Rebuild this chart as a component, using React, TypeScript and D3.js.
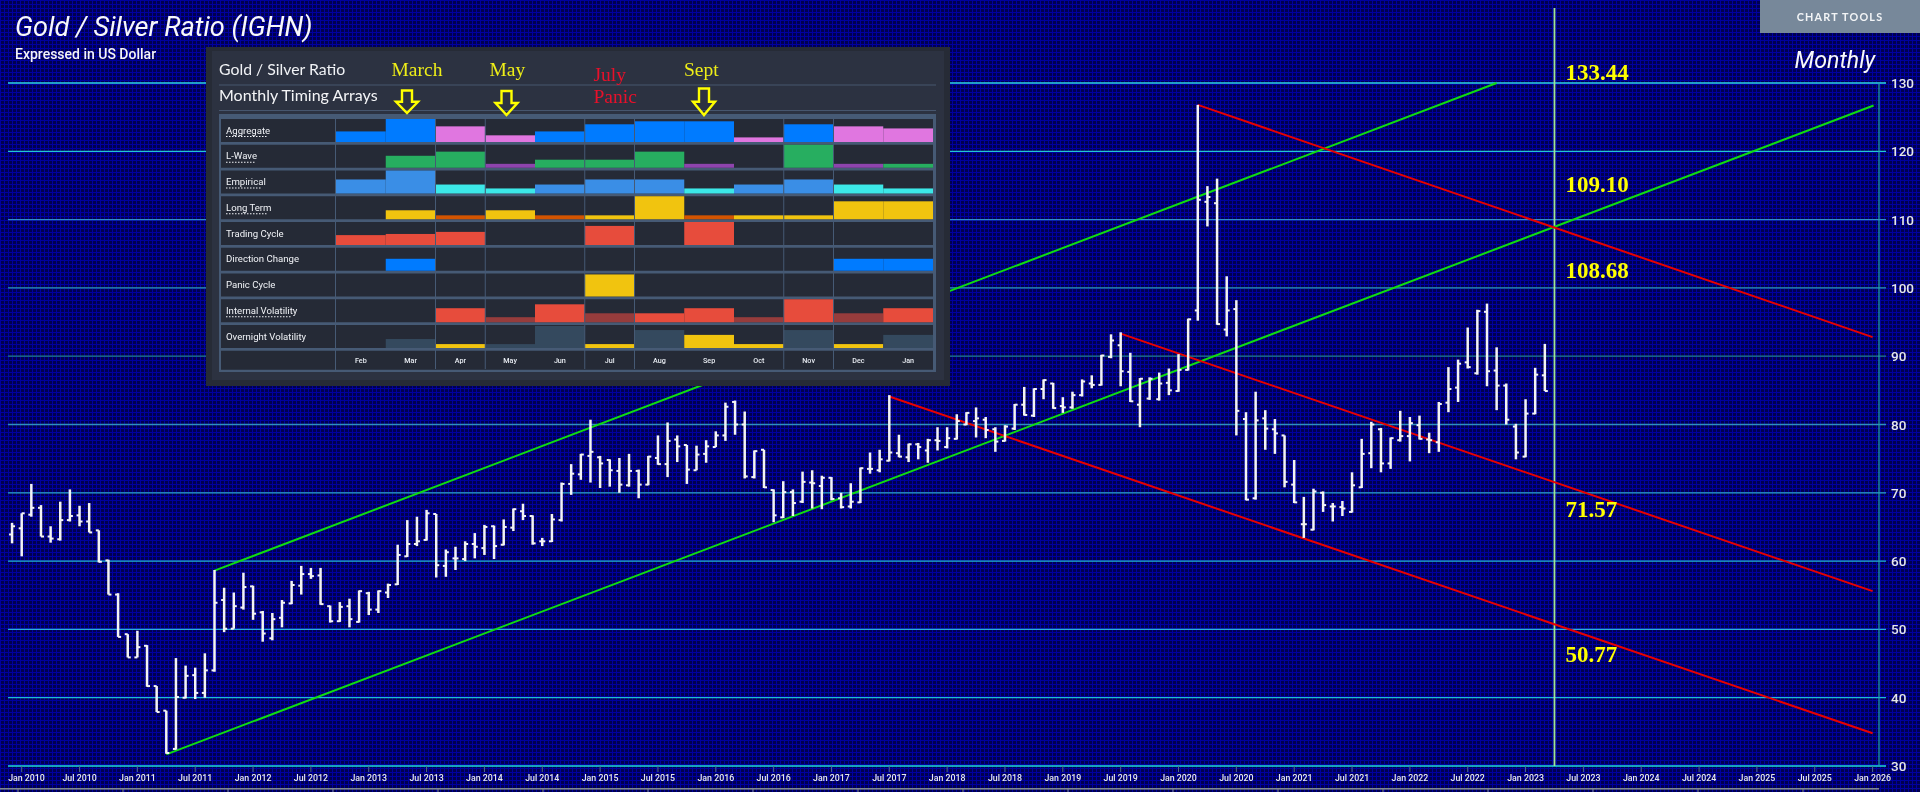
import React from "react";
import * as d3 from "d3";

// ---- OHLC, monthly, first bar is Dec 2009 ----
const opens = [63.9,64.8,66.8,67.8,63.6,63.2,66.0,66.7,65.8,64.5,60.1,55.1,49.3,45.9,47.6,41.7,38.1,32.5,40.0,43.3,40.7,44.0,54.3,50.1,53.2,56.3,52.5,48.7,51.7,53.8,56.4,58.1,57.9,53.4,51.2,53.4,51.1,55.3,52.9,55.4,56.6,60.7,62.5,63.1,66.9,59.3,60.4,60.3,62.5,61.9,65.1,62.4,64.9,67.3,66.6,62.9,62.9,66.0,71.3,72.7,75.4,75.2,74.8,73.2,71.1,73.2,71.2,75.1,74.2,77.8,77.0,73.3,75.7,76.7,78.4,83.3,80.0,72.3,76.3,70.4,66.4,70.1,68.7,71.5,71.0,72.2,69.2,68.0,68.6,73.5,73.3,74.7,75.8,75.2,77.1,76.2,77.7,76.7,77.9,80.0,80.5,80.7,79.3,77.6,79.4,82.9,81.3,85.2,86.0,82.7,82.5,84.3,86.0,85.8,89.9,91.6,87.7,82.9,83.8,83.7,86.1,84.9,88.0,96.7,112.6,112.4,93.9,96.9,80.8,69.2,80.9,79.3,78.4,71.2,65.4,64.6,70.0,68.0,67.9,67.2,70.8,75.8,79.3,74.3,77.7,78.3,79.9,77.8,77.4,83.2,85.4,89.1,87.5,96.5,87.9,85.7,79.7,75.3,81.6,87.2];
const highs = [65.6,67.0,71.3,68.2,65.1,68.7,70.5,68.1,68.5,64.5,60.2,55.3,49.3,49.8,47.7,41.7,38.1,45.8,44.7,44.4,46.5,58.7,56.1,55.4,58.3,56.4,52.7,52.4,54.3,57.1,59.3,59.0,59.0,53.5,54.0,54.5,55.7,55.5,55.7,56.7,62.4,66.0,66.5,67.5,66.9,61.7,62.1,62.9,64.1,65.3,65.2,66.1,67.7,68.4,66.7,63.4,66.9,71.5,74.2,75.7,80.7,75.4,74.9,75.1,75.7,73.4,75.4,78.4,80.3,78.4,77.0,76.9,77.7,79.0,83.2,83.5,81.9,76.2,76.3,70.5,71.7,70.5,73.1,73.3,72.5,72.3,70.0,71.4,73.7,75.9,76.3,84.3,78.5,77.2,77.3,77.9,79.6,79.6,81.5,81.8,82.5,81.1,79.6,79.9,83.0,85.5,85.3,86.6,86.1,84.0,84.8,86.6,87.2,90.2,93.2,93.5,90.5,86.8,86.9,87.6,88.2,90.3,95.5,126.8,114.9,116.0,101.7,98.2,81.8,84.8,82.1,80.8,78.4,74.8,69.4,70.6,70.2,68.5,68.8,73.0,77.9,80.4,79.5,78.1,82.0,81.1,81.3,78.8,83.3,88.4,89.5,94.2,96.8,97.7,91.3,86.0,80.1,83.7,88.3,91.8];
const lows = [62.6,60.7,66.5,63.6,62.7,63.0,65.8,65.1,64.2,59.8,55.1,48.9,45.9,45.9,41.6,37.9,31.8,32.4,39.9,39.8,40.0,43.8,49.6,50.1,52.9,51.4,48.2,48.4,50.3,53.7,55.1,57.4,53.6,51.0,51.1,50.3,51.0,52.1,52.4,54.6,56.5,60.6,62.2,63.0,57.6,57.7,58.7,60.0,60.4,60.9,60.3,62.3,64.4,66.0,62.4,62.2,62.8,65.8,69.7,71.9,71.5,70.7,70.9,70.0,70.9,69.2,71.1,74.1,72.3,74.5,71.3,73.3,74.4,76.7,77.6,78.5,72.1,72.1,70.7,65.7,66.3,66.6,68.5,67.7,67.6,68.9,67.7,67.7,68.5,72.8,73.0,74.6,75.2,74.5,74.9,74.4,76.2,76.5,77.8,79.9,78.1,78.0,76.0,77.5,79.2,81.3,81.1,83.7,82.3,81.7,82.3,84.1,85.3,85.7,89.7,85.6,83.3,79.6,83.6,83.5,84.3,84.8,87.9,95.2,109.0,94.6,92.9,78.4,68.9,69.0,76.3,75.7,70.8,68.5,63.4,64.5,67.2,65.8,66.6,67.1,70.7,73.6,73.0,73.5,77.5,74.6,77.8,75.8,76.0,81.8,83.3,88.2,87.3,85.6,82.1,80.0,74.9,75.2,81.5,84.9];
const closes = [65.1,67.0,67.8,63.6,63.3,66.0,66.6,65.8,64.2,59.9,55.1,48.9,45.9,47.4,41.7,37.9,31.9,40.1,43.2,40.7,44.0,53.9,50.1,53.4,56.2,52.3,49.4,51.5,53.9,56.5,58.1,57.8,53.7,51.2,53.3,51.5,55.6,52.9,55.6,56.5,60.9,62.5,62.9,67.0,59.4,61.3,60.4,62.5,62.1,65.0,62.2,65.0,67.6,66.6,62.6,62.9,66.1,71.3,72.8,75.6,76.0,74.3,73.3,71.2,73.2,71.2,75.3,74.2,77.6,76.8,73.4,75.6,76.8,78.4,82.6,80.0,72.4,76.1,70.8,66.7,70.1,68.5,71.6,71.4,72.2,69.1,67.9,68.7,73.6,73.5,74.9,75.9,75.3,77.1,76.7,77.7,77.6,78.0,80.5,81.7,80.9,79.2,77.5,79.7,82.9,81.4,85.2,86.5,82.4,82.5,84.3,86.3,85.8,90.1,92.3,87.8,83.4,86.7,86.7,86.0,85.0,88.0,95.4,112.9,113.3,94.7,96.7,82.0,69.0,80.6,79.4,78.7,71.6,68.6,65.4,70.2,68.2,68.0,67.7,71.1,75.7,80.0,74.3,78.0,78.3,80.2,77.9,77.7,83.0,85.2,88.9,88.4,96.6,87.8,85.7,80.7,75.9,81.6,87.3,84.9];
const firstBarMonth = -1;

// ---- axes ----
const yTicks = [30,40,50,60,70,80,90,100,110,120,130];
const xTickLabels = ["Jan 2010","Jul 2010","Jan 2011","Jul 2011","Jan 2012","Jul 2012","Jan 2013","Jul 2013","Jan 2014","Jul 2014","Jan 2015","Jul 2015","Jan 2016","Jul 2016","Jan 2017","Jul 2017","Jan 2018","Jul 2018","Jan 2019","Jul 2019","Jan 2020","Jul 2020","Jan 2021","Jul 2021","Jan 2022","Jul 2022","Jan 2023","Jul 2023","Jan 2024","Jul 2024","Jan 2025","Jul 2025","Jan 2026"];

// ---- trend lines: [month index from Jan 2010, ratio] ----
const greenLines = [[[15,31.7],[192.1,126.7]],[[20,58.6],[153,130]]];
const redLines = [[[122,126.8],[192,92.8]],[[114,93.3],[192,55.6]],[[90,84.1],[192,34.8]]];
const cycleMonth = 159;
const targets = [["133.44",80],["109.10",192],["108.68",278],["71.57",516.5],["50.77",661.5]] as const;

// ---- timing arrays ----
const months = ["Feb","Mar","Apr","May","Jun","Jul","Aug","Sep","Oct","Nov","Dec","Jan"];
const dividersAfter = ["Mar","Apr","Jun","Jul","Oct","Nov"];
const rowNames = ["Aggregate","L-Wave","Empirical","Long Term","Trading Cycle","Direction Change","Panic Cycle","Internal Volatility","Overnight Volatility"];
const rowDotted = [true,true,true,true,false,false,false,true,false];
const aggregate = [46,100,68,29,46,77,90,90,20,77,68,59];
const lWave = [0,52,70,17,35,35,70,17,0,100,17,17];
const empirical = [61,100,39,22,39,61,61,22,39,61,39,22];
const longTerm = [0,39,17,39,17,17,100,17,17,17,78,78];
const tradingCycle = [43,48,57,0,0,83,0,100,0,0,0,0];
const directionChange = [0,52,0,0,0,0,0,0,0,0,52,52];
const panicCycle = [0,0,0,0,0,96,0,0,0,0,0,0];
const internalVol = [0,0,61,22,78,39,39,61,22,100,39,61];
const overnightVol = [0,39,17,17,96,17,78,57,17,78,17,57];
const rowValues = [aggregate,lWave,empirical,longTerm,tradingCycle,directionChange,panicCycle,internalVol,overnightVol];
const rowPalette = [
  ["#007bff","#e076e0"],["#27ae60","#8e44ad"],["#3a8ee6","#3ce8e8"],["#f1c40f","#d35400"],
  ["#e74c3c","#e74c3c"],["#007bff","#007bff"],["#f1c40f","#f1c40f"],["#e74c3c","#963c3c"],["#34495e","#f1c40f"],
];
const rowTone = [
  [0,0,1,1,0,0,0,0,1,0,1,1],
  [0,0,0,1,0,0,0,1,0,0,1,0],
  [0,0,1,1,0,0,0,1,0,0,1,1],
  [0,0,1,0,1,0,0,1,0,0,0,0],
  [0,0,0,0,0,0,0,0,0,0,0,0],
  [0,0,0,0,0,0,0,0,0,0,0,0],
  [0,0,0,0,0,0,0,0,0,0,0,0],
  [0,0,0,1,0,1,0,0,1,0,1,0],
  [0,0,1,0,0,1,0,1,1,0,1,0],
];
const gridColors: Record<number,string> = {130:"#2cd6e6",120:"#22c8d0",110:"#2f8fc8",100:"#2b9cb0",90:"#1f7f86",80:"#2d8fc0",70:"#2ba8c4",60:"#22b4cc",50:"#2ab0d8",40:"#20bcd0",30:"#1ed8d8"};

const x = d3.scaleLinear().domain([0,192]).range([21.7,1872.6]);
const y = d3.scaleLinear().domain([30,130]).range([766,83]);
const linePath = d3.line<number[]>().x(d=>x(d[0])).y(d=>y(d[1]));
const colX = d3.scaleBand<string>().domain(months).range([336,933]);
const rowY = d3.scaleBand<string>().domain([...rowNames,"months"]).range([119,376.5]).paddingInner(0);
const cellH = d3.scaleLinear().domain([0,100]).range([0,23]);

const SANS = "Roboto, sans-serif";
const YEL = "#ffff00";

function Arrow({cx,top,bottom}:{cx:number;top:number;bottom:number}){
  const sh = top + (bottom-top)*0.5;
  const d = d3.path();
  d.moveTo(cx-5,top); d.lineTo(cx+5,top); d.lineTo(cx+5,sh); d.lineTo(cx+11,sh);
  d.lineTo(cx,bottom); d.lineTo(cx-11,sh); d.lineTo(cx-5,sh); d.closePath();
  return <path d={d.toString()} fill="none" stroke={YEL} strokeWidth={2.4}/>;
}

export default function App(){
  return (
    <svg width={1920} height={792} viewBox="0 0 1920 792" style={{position:"fixed",left:0,top:0,display:"block"}}>
      <defs>
        <pattern id="bg" width={4} height={4} patternUnits="userSpaceOnUse">
          <rect width={4} height={4} fill="#0000a0"/>
          <rect x={1} y={1} width={3} height={3} fill="#000050"/>
        </pattern>
      </defs>
      <rect width={1920} height={792} fill="url(#bg)"/>

      {/* grid */}
      {yTicks.map(t=>(
        <line key={t} x1={8} x2={1886} y1={y(t)} y2={y(t)} stroke={gridColors[t]} strokeWidth={1.3}/>
      ))}
      <line x1={1879} x2={1879} y1={y(130)} y2={y(30)} stroke="#1fa6ac" strokeWidth={1.2}/>
      {yTicks.map(t=>(
        <text key={t} x={1891} y={y(t)+5} fill="#e6e8ea" fontFamily={SANS} fontSize={13.5} fontWeight={500}>{t}</text>
      ))}
      {xTickLabels.map((l,i)=>{
        const px = x(i*6);
        return <g key={l}>
          <line x1={px} x2={px} y1={766} y2={772} stroke="#4c6a8a" strokeWidth={1}/>
          <text x={i===0?26.5:px} y={781} textAnchor="middle" fill="#e6e8ef" fontFamily={SANS} fontSize={8.8} fontWeight={500}>{l}</text>
        </g>;
      })}
      {/* navigator strip */}
      <rect x={0} y={788} width={1879} height={1.6} fill="#7f8892"/>
      {d3.range(18,1870,105).map(v=><line key={v} x1={v} x2={v} y1={789} y2={792} stroke="#7f8892"/>)}

      {/* cycle line */}
      <line x1={x(cycleMonth)} x2={x(cycleMonth)} y1={8} y2={766} stroke="#a0e49a" strokeWidth={1.8}/>

      {/* trend lines */}
      {greenLines.map((l,i)=><path key={i} d={linePath(l)!} fill="none" stroke="#10dc10" strokeWidth={2}/>)}
      {redLines.map((l,i)=><path key={i} d={linePath(l)!} fill="none" stroke="#e80000" strokeWidth={2}/>)}

      {/* OHLC */}
      {opens.map((o,i)=>{
        const px = x(firstBarMonth+i);
        return <g key={i} stroke="#f4f4f4" strokeWidth={2.5}>
          <line x1={px} x2={px} y1={y(highs[i])} y2={y(lows[i])}/>
          <line x1={px-3} x2={px} y1={y(o)} y2={y(o)} strokeWidth={2}/>
          <line x1={px} x2={px+3} y1={y(closes[i])} y2={y(closes[i])} strokeWidth={2}/>
        </g>;
      })}

      {/* target labels */}
      {targets.map(([t,by])=>(
        <text key={t} x={1565.5} y={by} fill={YEL} fontFamily="'Liberation Serif', serif" fontWeight={700} fontSize={23}>{t}</text>
      ))}

      {/* panel */}
      <rect x={206} y={47} width={744} height={339} fill="#262b36"/>
      <rect x={212} y={51} width={732} height={329} fill="#2c3241"/>
      <text x={219} y={75} fill="#f0f2f5" fontFamily="Lato, sans-serif" fontSize={15.8}>Gold / Silver Ratio</text>
      <line x1={219} x2={936} y1={85} y2={85} stroke="#47566e" strokeWidth={1}/>
      <text x={219} y={101} fill="#f4f5f7" fontFamily="Lato, sans-serif" fontSize={16}>Monthly Timing Arrays</text>
      <line x1={219} x2={936} y1={110.5} y2={110.5} stroke="#47566e" strokeWidth={1}/>
      <rect x={219} y={114} width={717} height={258} fill="#465a75"/>
      {[...rowNames,"months"].map((r,i)=>{
        const top = rowY(r)!;
        const h = r==="months"?19:23;
        return <g key={r}>
          <rect x={221} y={top} width={114} height={h} fill="#252a36"/>
          <rect x={336} y={top} width={597} height={h} fill="#252a36"/>
          {r!=="months" && <>
            <text x={226} y={top+14.5} fill="#f2f4f8" fontFamily={SANS} fontSize={9.6}>{r}</text>
            {rowDotted[i] && <line x1={226} x2={226+(r==="Internal Volatility"?65:r==="Aggregate"?42:r==="L-Wave"?29:r==="Empirical"?36:42)} y1={top+17.5} y2={top+17.5} stroke="#f2f4f8" strokeWidth={1} strokeDasharray="1.5 1.5"/>}
            {rowValues[i].map((v,j)=>{
              const ch = cellH(v);
              return v>0 ? <rect key={j} x={colX(months[j])!} y={top+23-ch} width={colX.bandwidth()} height={ch} fill={rowPalette[i][rowTone[i][j]]}/> : null;
            })}
          </>}
          {r==="months" && months.map(m=>(
            <text key={m} x={colX(m)!+colX.bandwidth()/2} y={top+12} textAnchor="middle" fill="#e8ecf2" fontFamily={SANS} fontSize={7.2} fontWeight={500}>{m}</text>
          ))}
        </g>;
      })}
      {dividersAfter.map(m=>{
        const v = colX(m)!+colX.bandwidth();
        return <line key={m} x1={v} x2={v} y1={119} y2={369} stroke="#465a75" strokeWidth={1}/>;
      })}

      {/* annotations */}
      <g fontFamily="'Liberation Serif', serif" fontSize={19.5}>
        <text x={391.5} y={76} fill="#eeee18">March</text>
        <text x={489.5} y={76} fill="#eeee18">May</text>
        <text x={593.5} y={81} fill="#e8102a">July</text>
        <text x={593.5} y={103} fill="#e8102a">Panic</text>
        <text x={684} y={76} fill="#eeee18">Sept</text>
      </g>
      <Arrow cx={407} top={90.5} bottom={113}/>
      <Arrow cx={506.5} top={91} bottom={115}/>
      <Arrow cx={704} top={88.5} bottom={115}/>

      {/* headings */}
      <text x={15} y={36} fill="#f8f8fc" fontFamily={SANS} fontStyle="italic" fontSize={27.2}>Gold / Silver Ratio (IGHN)</text>
      <text x={15} y={59} fill="#f4f4f8" fontFamily={SANS} fontWeight={500} fontSize={14}>Expressed in US Dollar</text>
      <text x={1794.5} y={68} fill="#f8f8fc" fontFamily={SANS} fontStyle="italic" fontSize={23.2}>Monthly</text>
      <rect x={1760} y={0} width={160} height={33} fill="#77889a"/>
      <text x={1840} y={20.5} textAnchor="middle" fill="#f2f4f6" fontFamily="Lato, sans-serif" fontWeight={700} fontSize={10.8} letterSpacing={1.2}>CHART TOOLS</text>
    </svg>
  );
}
